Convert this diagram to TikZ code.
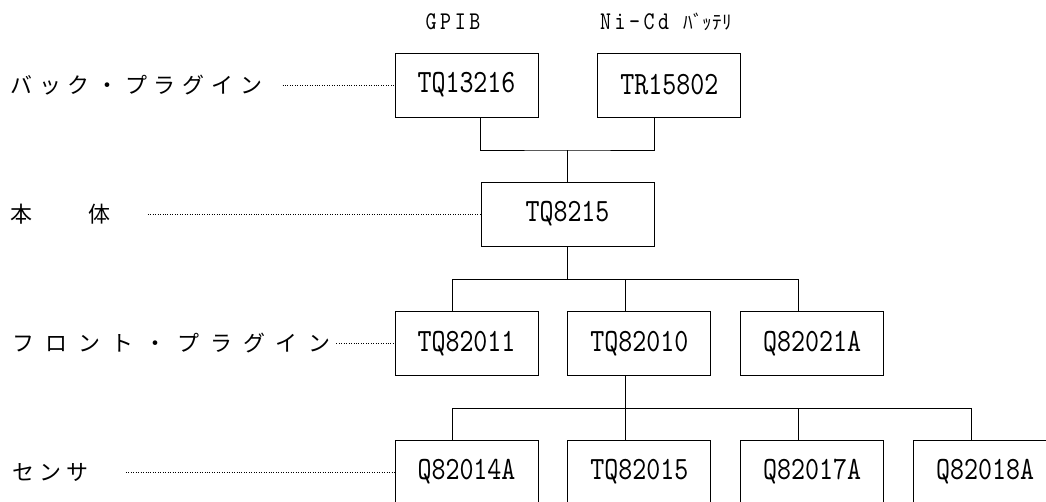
\documentclass[tikz,border=0pt]{standalone}
\usepackage{fontspec}
\newfontfamily\jpfont{Noto Sans CJK JP}
\newfontfamily\boxfont[FakeStretch=0.82]{lmmono10-regular.otf}
\newfontfamily\topfont[FakeStretch=0.82, LetterSpace=14]{lmmono10-regular.otf}
\usetikzlibrary{positioning, calc}

\begin{document}
\begin{tikzpicture}[x=0.02cm, y=-0.02cm, line width=0.5pt,
    unit/.style={draw, minimum width=2.86cm, minimum height=1.28cm, inner sep=0pt, font=\boxfont\fontsize{18.5}{20}\selectfont},
    level/.style={anchor=west, inner sep=0pt, font=\jpfont\fontsize{12.5}{15}\selectfont},
    leader/.style={densely dotted, line width=0.4pt},
    toplabel/.style={inner sep=0pt, font=\topfont\fontsize{14.5}{16}\selectfont}]
    \clip (0,0) rectangle (1046,501);
    % back plug-ins
    \node[unit] (bk1) at (466.5,85) {TQ13216};
    \node[unit, right=1.18cm of bk1] (bk2) {TR15802};
    \node[toplabel] (gpib) at (453,22) {GPIB};
    \node[toplabel] (nicd) at (666,22) {Ni-Cd {\jpfont\fontsize{11}{12}\selectfont ﾊﾞｯﾃﾘ}};
    % main unit
    \node[unit, minimum width=3.46cm] (main) at (567.5,214) {TQ8215};
    % front plug-ins
    \node[unit] (fr1) at (466.5,343.5) {TQ82011};
    \node[unit, right=0.58cm of fr1] (fr2) {TQ82010};
    \node[unit, right=0.58cm of fr2] (fr3) {Q82021A};
    % sensors
    \node[unit] (sn1) at (466.5,472) {Q82014A};
    \node[unit, right=0.58cm of sn1] (sn2) {TQ82015};
    \node[unit, right=0.58cm of sn2] (sn3) {Q82017A};
    \node[unit, right=0.58cm of sn3] (sn4) {Q82018A};
    % level names
    \node[level, font=\jpfont\fontsize{12.5}{15}\selectfont\addfontfeature{LetterSpace=31}] (lb1) at (10,85) {バック・プラグイン};
    \node[level] (lb2) at (10,214) {本\hspace{1.12cm}体};
    \node[level, font=\jpfont\fontsize{12.5}{15}\selectfont\addfontfeature{LetterSpace=50}] (lb3) at (12,343.5) {フロント・プラグイン};
    \node[level, font=\jpfont\fontsize{12.5}{15}\selectfont\addfontfeature{LetterSpace=23}] (lb4) at (12,472) {センサ};
    \draw[leader, shorten <=0.4cm] (lb1.east) -- (bk1.west);
    \draw[leader, shorten <=0.74cm] (lb2.east) -- (main.west);
    \draw[leader, shorten <=0.1cm] (lb3.east) -- (fr1.west);
    \draw[leader, shorten <=0.74cm] (lb4.east) -- (sn1.west);
    % tree
    \coordinate (bus1) at (567.5,150);
    \coordinate (bus2) at (567.5,279);
    \coordinate (bus3) at (567.5,408);
    \draw (bk1.south -| main.west) |- (bus1) -| (bk2.south -| main.east);
    \draw (bus1) -- (main.north);
    \draw (main.south) -- (bus2);
    \draw ([xshift=-0.28cm]fr1.north |- bus2) -- ([xshift=-0.28cm]fr3.north |- bus2);
    \foreach \n in {fr1,fr2,fr3}
        \draw ([xshift=-0.28cm]\n.north) -- ([xshift=-0.28cm]\n.north |- bus2);
    \draw ([xshift=-0.28cm]fr2.south) -- ([xshift=-0.28cm]fr2.south |- bus3);
    \draw ([xshift=-0.28cm]sn1.north |- bus3) -- ([xshift=-0.28cm]sn4.north |- bus3);
    \foreach \n in {sn1,sn2,sn3,sn4}
        \draw ([xshift=-0.28cm]\n.north) -- ([xshift=-0.28cm]\n.north |- bus3);
\end{tikzpicture}
\end{document}
